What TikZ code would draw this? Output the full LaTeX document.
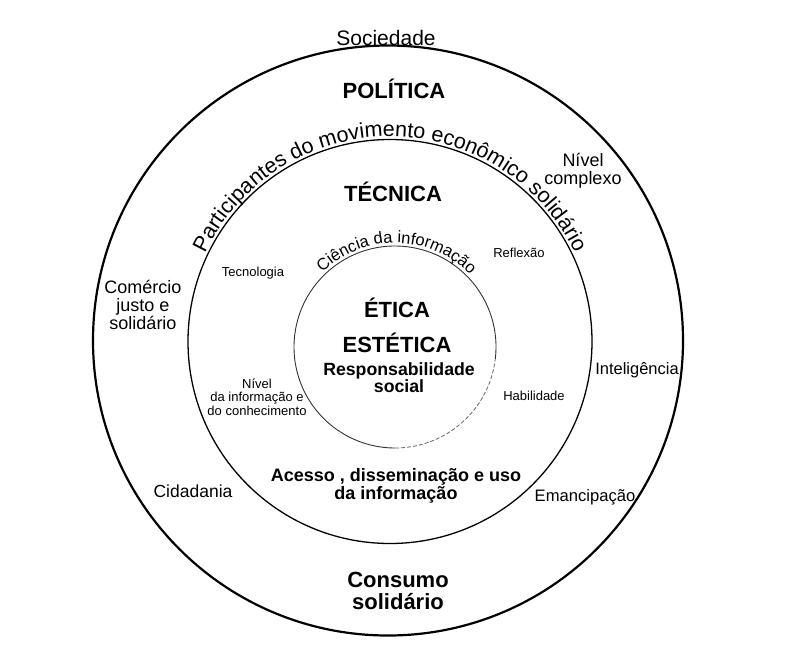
\documentclass[tikz,border=0pt]{standalone}
\usepackage{fontspec}
\setmainfont{Liberation Sans}
\usetikzlibrary{decorations.text}
\tikzset{
  txt/.style={align=center, inner sep=0pt, text=black},
  bigb/.style={txt, font=\fontsize{22}{22}\selectfont\bfseries},
  midb/.style={txt, font=\fontsize{18}{18}\selectfont\bfseries},
  midr/.style={txt, font=\fontsize{18}{18}\selectfont},
  smallr/.style={txt, font=\fontsize{13}{13.5}\selectfont},
  ring/.style={draw=black},
}
\begin{document}
\begin{tikzpicture}[x=1pt,y=1pt]
\useasboundingbox (0,0) rectangle (792,-670);
\fill[white] (0,0) rectangle (792,-670);
% centres
\coordinate (co) at (388,-340.5);
\coordinate (cm) at (390,-341.5);
\coordinate (ci) at (395,-347);
% circles
\draw[ring, line width=2.2pt] (co) circle[radius=295pt];
\draw[ring, line width=1.3pt] (cm) circle[radius=202pt];
\draw[ring, line width=0.9pt, draw=black!80] (ci) ++(-7:101pt) arc[start angle=-7, end angle=270, radius=101pt];
\draw[ring, line width=0.8pt, draw=black!60, dash pattern=on 4pt off 2pt] (ci) ++(270:101pt) arc[start angle=270, end angle=353, radius=101pt];
% curved texts
\path[decorate, decoration={text along path, text align=center,
  text={|\fontsize{21.5}{21.5}\selectfont|Participantes do movimento econômico solidário}}]
  (cm) ++(172:205pt) arc[start angle=172, end angle=8, radius=205pt];
\path[decorate, decoration={text along path, text align=center,
  text={|\fontsize{16.5}{16.5}\selectfont|Ciência da informação}}]
  (ci) ++(150:104pt) arc[start angle=150, end angle=28, radius=104pt];
% labels
\node[txt, font=\fontsize{21}{21}\selectfont] (soc) at (386,-38) {Sociedade};
\node[bigb] (pol) at (394,-89) {POLÍTICA};
\node[bigb] (tec) at (393,-192) {TÉCNICA};
\node[midr] (niv) at (583,-171) {Nível\\complexo};
\node[midr] (com) at (143,-305) {Comércio\\justo e\\solidário};
\node[txt, font=\fontsize{16.5}{16.5}\selectfont] (int) at (637,-370) {Inteligência};
\node[smallr] (tecn) at (253,-273) {Tecnologia};
\node[smallr] (ref) at (519,-253) {Reflexão};
\node[bigb] (eti) at (397,-308) {ÉTICA};
\node[bigb] (est) at (397,-343) {ESTÉTICA};
\node[txt, font=\fontsize{17.7}{17}\selectfont\bfseries] (resp) at (399,-378) {Responsabilidade\\social};
\node[smallr] (nivi) at (257,-397) {Nível\\da informação e\\do conhecimento};
\node[smallr] (hab) at (534,-396) {Habilidade};
\node[midb] (ace) at (396,-486) {Acesso , disseminação e uso\\da informação};
\node[txt, font=\fontsize{17.5}{17.5}\selectfont] (cid) at (193,-491) {Cidadania};
\node[txt, font=\fontsize{16.6}{16.6}\selectfont] (ema) at (585,-497) {Emancipação};
\node[bigb] (cons) at (398,-591) {Consumo\\solidário};
\end{tikzpicture}
\end{document}
